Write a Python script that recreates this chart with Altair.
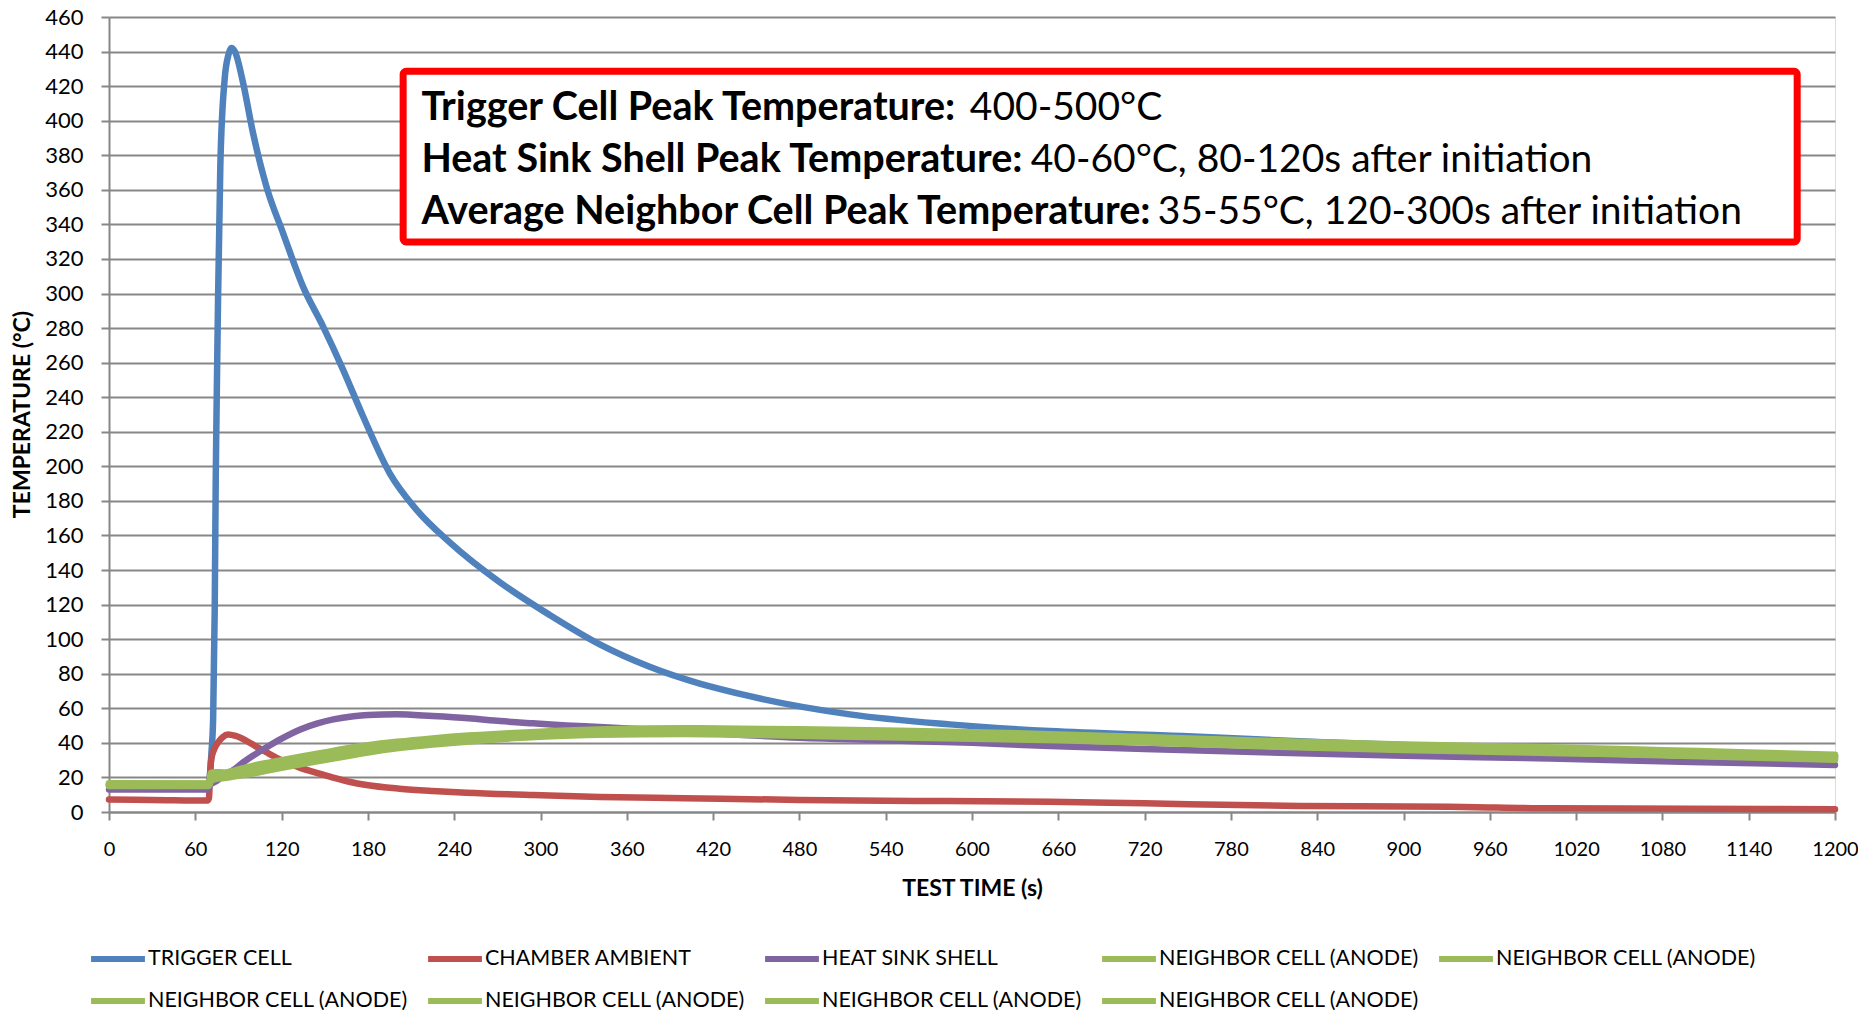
import altair as alt
import pandas as pd

# ---------------- data ----------------
series_names = ["TRIGGER CELL", "CHAMBER AMBIENT", "HEAT SINK SHELL",
                "NEIGHBOR CELL (ANODE) 1", "NEIGHBOR CELL (ANODE) 2", "NEIGHBOR CELL (ANODE) 3",
                "NEIGHBOR CELL (ANODE) 4", "NEIGHBOR CELL (ANODE) 5", "NEIGHBOR CELL (ANODE) 6"]
series_colors = ["#4F81BD", "#C0504D", "#8064A2",
                 "#9BBB59", "#9BBB59", "#9BBB59", "#9BBB59", "#9BBB59", "#9BBB59"]

trigger_t = [0, 69, 70.5, 71.2, 72.4, 73.5, 74.2, 74.7, 75.8, 77.4, 80.4, 83, 85.1, 87.5, 93.2,
             100.1, 109.4, 121, 134.9, 148.8, 162.7, 176.6, 195.2, 213.7, 236.9, 271.6, 306.4,
             341.2, 375.9, 445.5, 515, 584.5, 654, 746, 840, 960, 1080, 1200]
trigger_v = [15.5, 15.5, 25, 34, 54, 117, 192, 227, 296, 374, 424, 438, 442, 440, 422,
             393, 362, 335, 304, 281, 256, 229, 196, 175, 156, 133, 114,
             97, 84, 67, 56.5, 50.7, 46.8, 44, 40.5, 37, 34.5, 32.3]

ambient_t = [0, 30, 68.5, 69.5, 70.2, 71, 73, 76, 79, 82.7, 88, 95, 103, 110, 120, 132.6, 145,
             155.8, 167, 179, 202, 225, 248.5, 295, 341, 400, 480, 560, 654, 720, 828, 932,
             1002, 1100, 1200]
ambient_v = [7.2, 7.0, 6.6, 8, 20, 30, 36, 40.5, 43.3, 44.8, 44, 41.5, 37.5, 34.3, 30, 25.7, 22.5,
             19.9, 17.5, 15.6, 13.5, 12.2, 11.2, 9.8, 8.7, 8, 7, 6.4, 6.0, 5, 3.5, 3.1,
             2.1, 1.9, 1.6]

heatsink_t = [0, 68.5, 70, 75, 80, 86, 93, 100, 109, 120, 133, 145, 156, 170, 180, 200, 225,
              250, 272, 295, 318, 341, 400, 480, 540, 600, 654, 720, 828, 900, 1002, 1100, 1200]
heatsink_v = [13, 13, 15.5, 18, 21, 24, 28.5, 32.5, 37.2, 42.5, 47.8, 51.3, 53.6, 55.4, 56.1,
              56.5, 55.5, 54.2, 52.6, 51.3, 50.1, 49.2, 46.5, 43, 41.5, 40, 38.2, 36.5, 34,
              32.6, 30.9, 29, 27.2]

neighbor_t = [0, 68, 69.5, 71, 74, 80, 90, 100, 110, 120, 135, 150, 165, 180, 200, 225, 250,
              275, 300, 340, 400, 480, 540, 600, 660, 720, 780, 840, 900, 960, 1020, 1080,
              1140, 1200]
neighbor_1 = [15.0, 15.1, 15.2, 18.0, 19.1, 19.7, 21.0, 22.3, 24.0, 25.6, 27.9, 30.1, 32.3,
              34.4, 36.8, 39.0, 40.8, 42.4, 43.5, 44.7, 45.2, 44.1, 43.3, 42.4, 41.5, 40.2,
              38.6, 37.2, 35.9, 34.9, 33.9, 32.8, 31.5, 30.3]
neighbor_2 = [15.3, 15.3, 15.6, 18.6, 19.7, 20.3, 21.7, 23.2, 24.9, 26.5, 28.8, 31.0, 33.2,
              35.2, 37.6, 39.7, 41.5, 43.0, 44.1, 45.3, 45.8, 44.9, 44.1, 43.2, 42.2, 40.8,
              39.2, 37.8, 36.5, 35.5, 34.5, 33.4, 32.1, 30.8]
neighbor_3 = [15.6, 15.7, 16.0, 19.2, 20.3, 21.0, 22.4, 24.1, 25.8, 27.4, 29.7, 31.9, 34.1,
              36.1, 38.3, 40.4, 42.2, 43.6, 44.7, 45.9, 46.5, 45.6, 44.8, 43.9, 42.9, 41.5,
              39.9, 38.5, 37.2, 36.2, 35.2, 34.0, 32.7, 31.4]
neighbor_4 = [16.0, 15.9, 16.4, 19.8, 20.9, 21.6, 23.2, 24.9, 26.6, 28.2, 30.5, 32.7, 34.9,
              36.9, 39.1, 41.2, 42.8, 44.2, 45.3, 46.5, 47.1, 46.4, 45.6, 44.7, 43.5, 42.1,
              40.5, 39.1, 37.8, 36.8, 35.8, 34.6, 33.3, 32.0]
neighbor_5 = [16.3, 16.3, 16.8, 20.4, 21.5, 22.3, 23.9, 25.8, 27.5, 29.1, 31.4, 33.6, 35.8,
              37.8, 39.8, 41.9, 43.5, 44.8, 45.9, 47.1, 47.8, 47.1, 46.3, 45.4, 44.2, 42.8,
              41.2, 39.8, 38.5, 37.5, 36.5, 35.2, 33.9, 32.6]
neighbor_6 = [16.6, 16.5, 17.2, 22.8, 23.0, 22.9, 24.6, 26.7, 28.4, 30.0, 32.3, 34.5, 36.7,
              38.6, 40.6, 42.6, 44.2, 45.4, 46.5, 47.7, 48.4, 47.9, 47.1, 46.2, 44.9, 43.4,
              41.8, 40.4, 39.1, 38.1, 37.1, 35.8, 34.5, 33.1]

x_ticks = list(range(0, 1201, 60))
y_ticks = list(range(0, 461, 20))

note_bold = ["Trigger Cell Peak Temperature:",
             "Heat Sink Shell Peak Temperature:",
             "Average Neighbor Cell Peak Temperature:"]
note_rest = ["400-500°C",
             "40-60°C, 80-120s after initiation",
             "35-55°C, 120-300s after initiation"]

# ---------------- tables ----------------
series_data = [
    (series_names[0], trigger_t, trigger_v),
    (series_names[1], ambient_t, ambient_v),
    (series_names[2], heatsink_t, heatsink_v),
    (series_names[3], neighbor_t, neighbor_1),
    (series_names[4], neighbor_t, neighbor_2),
    (series_names[5], neighbor_t, neighbor_3),
    (series_names[6], neighbor_t, neighbor_4),
    (series_names[7], neighbor_t, neighbor_5),
    (series_names[8], neighbor_t, neighbor_6),
]
rows = []
for name, ts, vs in series_data:
    for t, v in zip(ts, vs):
        rows.append({"series": name, "time": t, "temp": v})
df = pd.DataFrame(rows)

# annotation placement (in data units)
note_x_bold = 217.2
note_x_rest = [598.5, 640.8, 729.1]
note_y = [400.2, 370.3, 340.4]
notes_bold = pd.DataFrame({"time": [note_x_bold] * 3, "temp": note_y, "text": note_bold})
notes_rest = pd.DataFrame({"time": note_x_rest, "temp": note_y, "text": note_rest})
box = pd.DataFrame({"time": [204.5], "time2": [1173.7], "temp": [428.6], "temp2": [329.8]})

# ---------------- chart ----------------
GRID = "#878787"
FONT = "Lato"

x_enc = alt.X("time:Q", scale=alt.Scale(domain=[0, 1200], nice=False),
              axis=alt.Axis(values=x_ticks, format="d", grid=False, tickSize=8, tickWidth=2,
                            tickColor=GRID, domainColor=GRID, domainWidth=2, labelFont=FONT,
                            labelFontSize=20, labelColor="#000000", labelPadding=19,
                            labelFlush=False, labelOverlap=False, title="TEST TIME (s)",
                            titleFont=FONT, titleFontSize=23, titleFontWeight="bold",
                            titleColor="#000000", titleBaseline="middle", titleY=76))
y_enc = alt.Y("temp:Q", scale=alt.Scale(domain=[0, 460], nice=False),
              axis=alt.Axis(values=y_ticks, format="d", grid=True, gridColor=GRID, gridWidth=2,
                            tickSize=8, tickWidth=2, tickColor=GRID, domainColor=GRID,
                            domainWidth=2, labelFont=FONT, labelFontSize=22,
                            labelColor="#000000", labelPadding=18, labelOverlap=False,
                            title="TEMPERATURE (°C)", titleFont=FONT, titleFontSize=23,
                            titleFontWeight="bold", titleColor="#000000", titleAngle=270,
                            titleBaseline="middle", titleAlign="center", titleX=-87,
                            titleY=397))
color_enc = alt.Color("series:N", title=None,
                      scale=alt.Scale(domain=series_names, range=series_colors),
                      legend=alt.Legend(orient="none", legendX=-21, legendY=912,
                                        direction="horizontal", columns=5, gridAlign="all",
                                        symbolType="stroke", symbolStrokeWidth=6,
                                        symbolSize=2900, labelFont=FONT, labelFontSize=21.5,
                                        labelColor="#000000", labelOffset=0, labelLimit=500,
                                        labelExpr="substring(datum.label, 0, 21)",
                                        columnPadding=8, rowPadding=0, padding=0))

layers = []
for name in series_names:
    layers.append(
        alt.Chart(df).transform_filter(alt.datum.series == name)
        .mark_line(strokeWidth=6.5, interpolate="monotone", strokeCap="round",
                   strokeJoin="round")
        .encode(x=x_enc, y=y_enc, color=color_enc)
    )

box_layer = alt.Chart(box).mark_rect(fill="white", stroke="#FF0000", strokeWidth=7,
                                     cornerRadius=3).encode(x=x_enc, x2="time2:Q",
                                                            y=y_enc, y2="temp2:Q")
bold_layer = alt.Chart(notes_bold).mark_text(font=FONT, fontSize=39.5, fontWeight="bold",
                                             align="left", baseline="alphabetic",
                                             color="#000000").encode(x=x_enc, y=y_enc,
                                                                     text="text:N")
rest_layer = alt.Chart(notes_rest).mark_text(font=FONT, fontSize=39, fontWeight="normal",
                                             align="left", baseline="alphabetic",
                                             color="#000000").encode(x=x_enc, y=y_enc,
                                                                     text="text:N")

chart = alt.layer(*layers, box_layer, bold_layer, rest_layer).properties(
    width=1726, height=795,
    padding={"left": 101, "top": 9, "right": 23, "bottom": 201},
    autosize=alt.AutoSizeParams(type="none"),
).configure_view(stroke=None).configure(background="white")

chart.save("out.html", embed_options={"renderer": "svg", "actions": False})
